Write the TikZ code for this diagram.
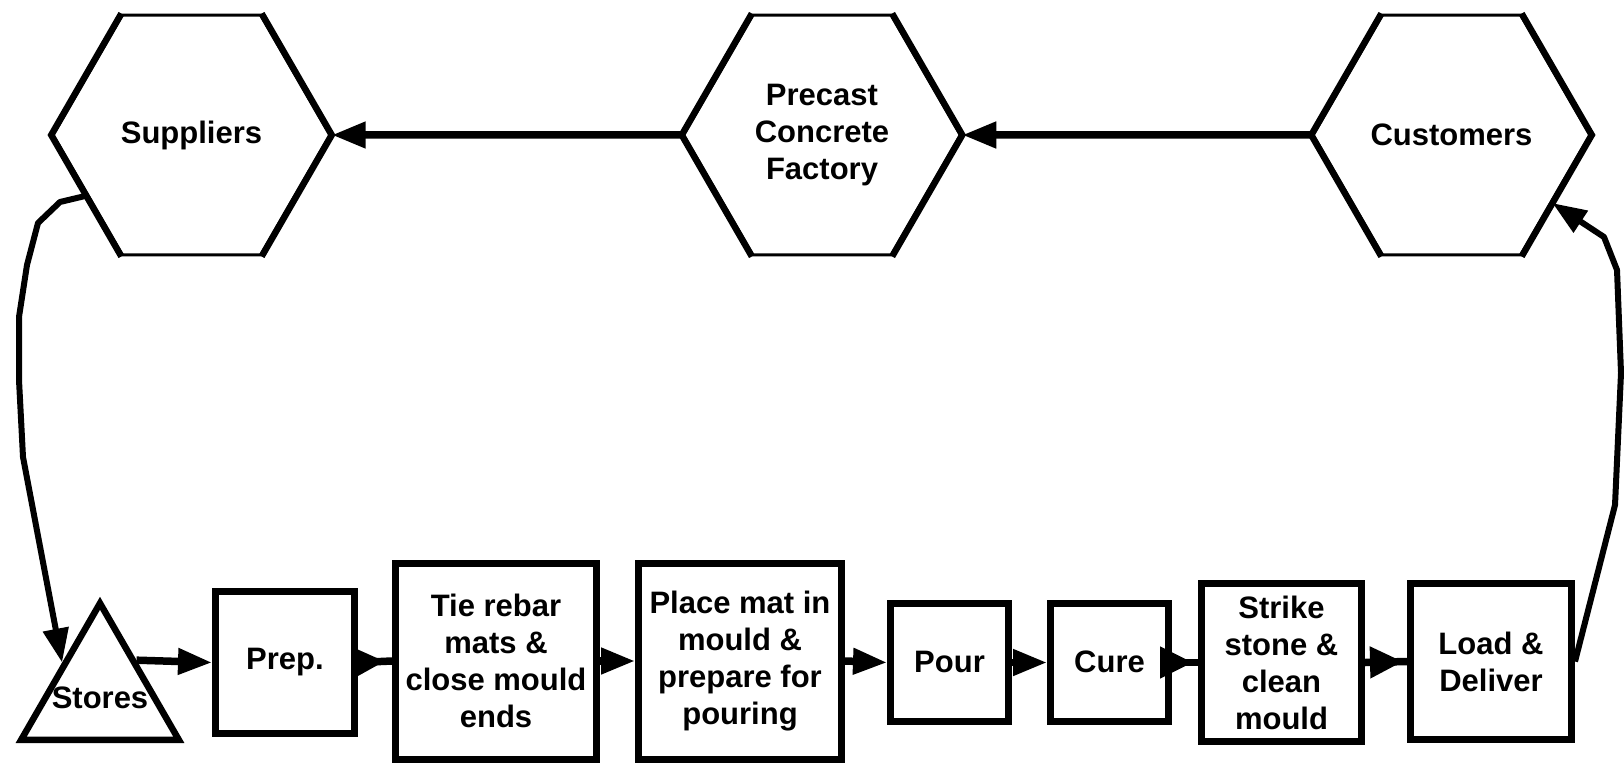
\documentclass[tikz,border=0pt]{standalone}
\usepackage{fontspec}
\setmainfont{Liberation Sans}
\usetikzlibrary{arrows.meta,shapes.geometric,decorations.markings}
\begin{document}
\begin{tikzpicture}[x=1pt,y=-1pt,
  every node/.style={font=\bfseries\fontsize{31}{37}\selectfont, align=center, inner sep=0pt},
  hexnode/.style={regular polygon, regular polygon sides=6, minimum size=277pt, draw, line width=3pt},
  hexside/.style={line width=6.5pt, line join=miter},
  storenode/.style={regular polygon, regular polygon sides=3, minimum size=182pt, draw, line width=6.5pt},
  stepbox/.style={rectangle, draw, line width=7pt},
  conn/.style={line width=7.5pt, line join=round},
  loopconn/.style={line width=6pt, line join=round},
  head/.style={-{Triangle[length=34pt,width=25pt]}},
  midhead/.style={postaction={decorate},
    decoration={markings, mark=at position #1 with {\arrow{Triangle[length=33pt,width=30pt]}}}},
]
\useasboundingbox (0,0) rectangle (1624,765);

% top row: parties
\node[hexnode] (sup) at (191.5,135) {Suppliers};
\node[hexnode] (pcf) at (822,135) {Precast\\Concrete\\Factory};
\node[hexnode] (cus) at (1451.5,135) {Customers};
% heavier slanted sides of the hexagons
\foreach \h in {sup,pcf,cus}
  \draw[hexside] (\h.120) -- (\h.180) -- (\h.240) (\h.60) -- (\h.0) -- (\h.300);

% bottom row: production steps
\node[storenode] (stores) at (100,694.3) {\makebox[0pt]{\smash{\raisebox{-14pt}{Stores}}}};
\node[stepbox, minimum width=139pt, minimum height=142pt] (prep) at (285,662.5) {Prep.};
\node[stepbox, minimum width=201pt, minimum height=196pt] (tie) at (496,661) {Tie rebar\\mats \&\\close mould\\ends};
\node[stepbox, minimum width=203pt, minimum height=196pt] (place) at (740,661) {Place mat in\\mould \&\\prepare for\\pouring};
\node[stepbox, minimum width=118pt, minimum height=118pt] (pour) at (949.5,662.5) {\raisebox{2pt}{Pour}};
\node[stepbox, minimum width=118pt, minimum height=118pt] (cure) at (1109.5,662.5) {\raisebox{2pt}{Cure}};
\node[stepbox, minimum width=160pt, minimum height=158pt] (strike) at (1281.5,662.5) {Strike\\stone \&\\clean\\mould};
\node[stepbox, minimum width=161pt, minimum height=156pt] (load) at (1491,661.5) {Load \&\\Deliver};

% orders flowing upstream
\draw[conn, head] (pcf.west) -- (sup.east);
\draw[conn, head] (cus.west) -- (pcf.east);

% material flow
\draw[loopconn, head] (sup.210) -- (60,202) -- (38,223) -- (27,265) -- (19,317)
  -- (19,380) -- (23,457) -- (stores.140);
\draw[conn, head] (stores.43) -- (prep.west);
\draw[conn, midhead=-7pt] (prep.east) -- (tie.west);
\draw[conn, head] (tie.east) -- (place.west);
\draw[conn, head] (place.east) -- (pour.west);
\draw[conn, head] (pour.east) -- (cure.west);
\draw[conn, midhead=-5pt] (cure.east) -- (strike.west);
\draw[conn, midhead=-4pt] (strike.east) -- (load.west);
\draw[loopconn, head] (load.east) -- (1615,505) -- (1621,373) -- (1617,270)
  -- (1604,237) -- (cus.326);
\end{tikzpicture}
\end{document}
